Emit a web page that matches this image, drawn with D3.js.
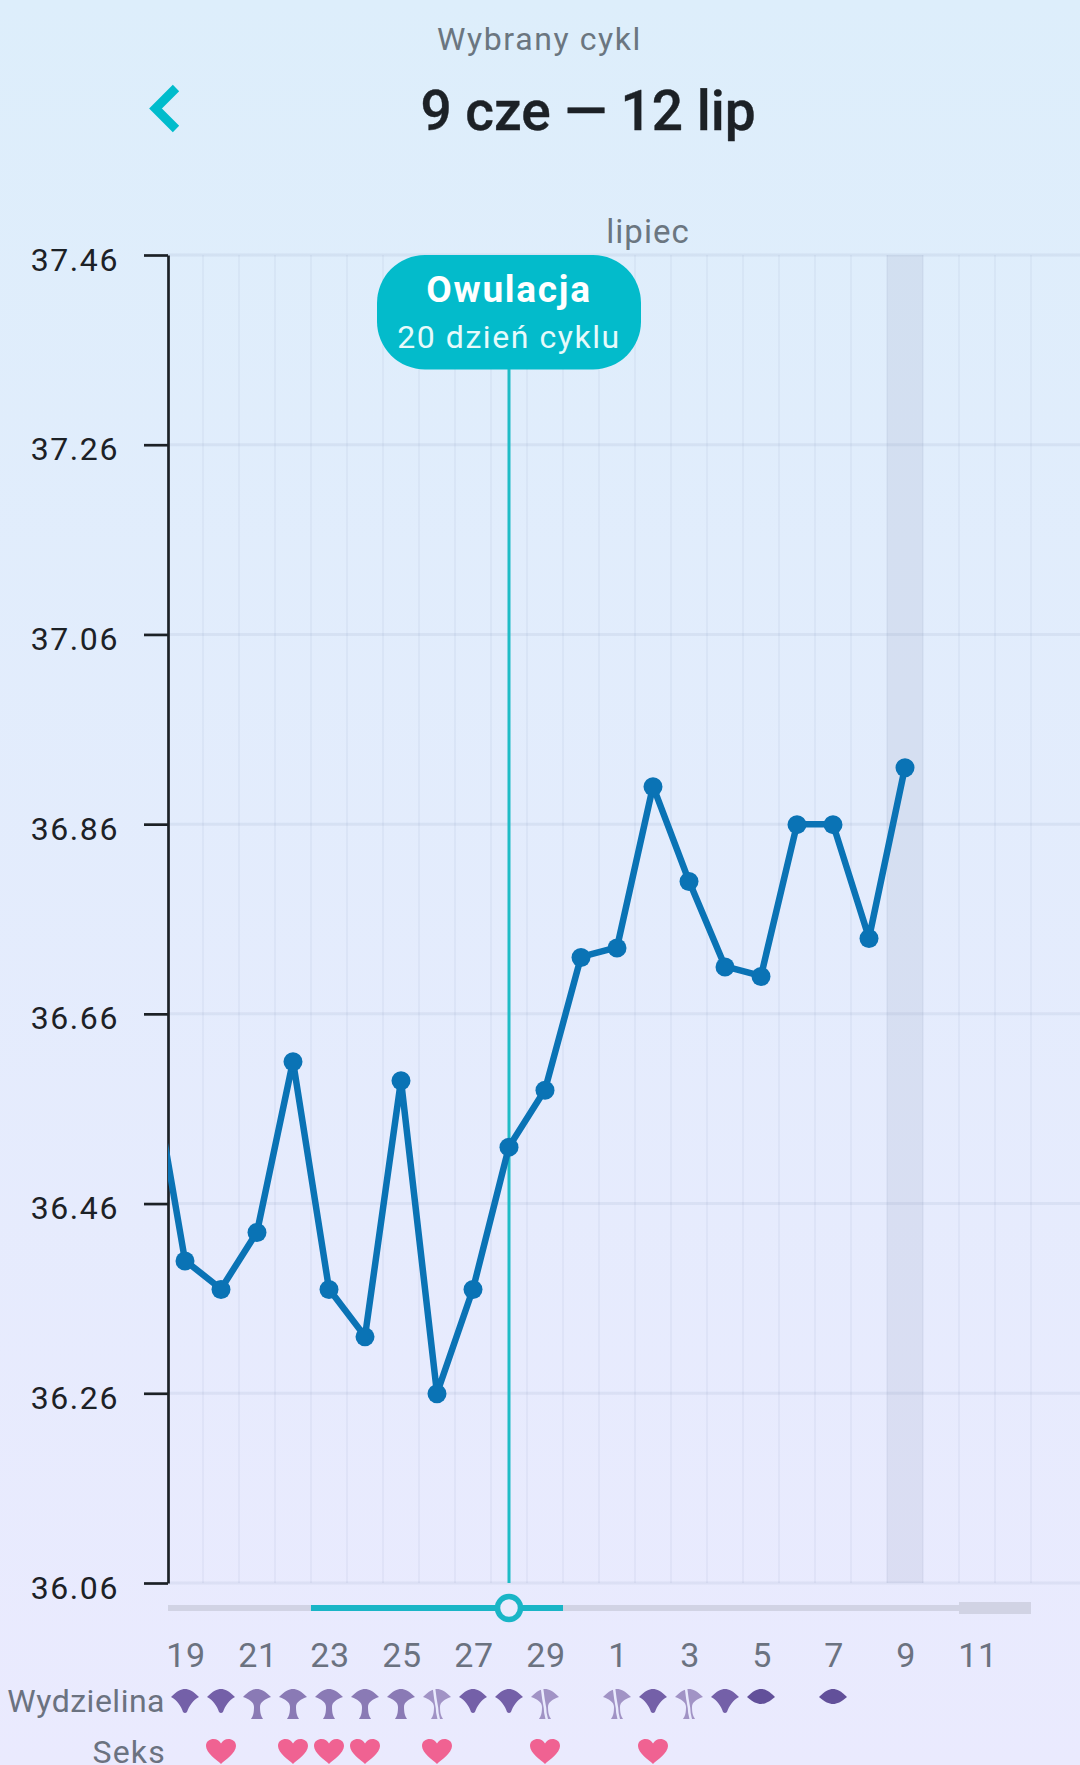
<!DOCTYPE html>
<html>
<head>
<meta charset="utf-8">
<script src="https://cdnjs.cloudflare.com/ajax/libs/d3/7.8.5/d3.min.js"></script>
<style>
html, body { margin: 0; padding: 0; background: #e9ebfd; }
svg { display: block; font-family: Roboto, sans-serif; }
</style>
</head>
<body>
<div id="chart-area"></div>
<script>
const MARGIN = {LEFT: 167, RIGHT: 1031, TOP: 255, BOTTOM: 1583}

// days of the cycle shown on the chart, 18 sits left of the axis and gets clipped
const days = ["18","19","20","21","22","23","24","25","26","27","28","29","30",
              "1","2","3","4","5","6","7","8","9","10","11","12"]
const temps = [36.62,36.40,36.37,36.43,36.61,36.37,36.32,36.59,36.26,36.37,36.52,36.58,36.72,
               36.73,36.90,36.80,36.71,36.70,36.86,36.86,36.74,36.92]
const tempTicks = [36.06,36.26,36.46,36.66,36.86,37.06,37.26,37.46]
const dayTicks = ["19","21","23","25","27","29","1","3","5","7","9","11"]
const ovulationDay = "28"
const todayDay = "9"
const fluidDays = ["19","20","21","22","23","24","25","26","27","28","29","1","2","3","4","5","7"]
const fluidTypes = ["a","a","b","b","b","b","b","c","a","a","c","c","a","c","a","d","d"]
const sexDays = ["20","22","23","24","26","29","2"]

const svg = d3.select("#chart-area").append("svg")
    .attr("width", 1080)
    .attr("height", 1765)

// page gradient
const defs = svg.append("defs")
const grad = defs.append("linearGradient")
    .attr("id", "bg").attr("x1", 0).attr("y1", 0).attr("x2", 0).attr("y2", 1)
grad.append("stop").attr("offset", "0%").attr("stop-color", "#ddeefb")
grad.append("stop").attr("offset", "100%").attr("stop-color", "#eaeafe")
svg.append("rect").attr("width", 1080).attr("height", 1765).attr("fill", "url(#bg)")

defs.append("clipPath").attr("id", "plot-clip").append("rect")
    .attr("x", MARGIN.LEFT + 1).attr("y", 0)
    .attr("width", 1080).attr("height", 1765)

const x = d3.scaleBand()
    .domain(days)
    .range([MARGIN.LEFT - 36, MARGIN.RIGHT])

const y = d3.scaleLinear()
    .domain([36.06, 37.46])
    .range([MARGIN.BOTTOM, MARGIN.TOP])

const cx = d => x(d) + x.bandwidth() / 2

// header
svg.append("text")
    .attr("x", 539.5).attr("y", 50)
    .attr("text-anchor", "middle")
    .attr("font-size", 32).attr("letter-spacing", 1.6)
    .attr("fill", "#6b7680")
    .text("Wybrany cykl")

svg.append("text")
    .attr("x", 588).attr("y", 130)
    .attr("text-anchor", "middle")
    .attr("font-size", 55).attr("font-weight", 500)
    .attr("stroke", "#1c2126").attr("stroke-width", 0.4)
    .attr("fill", "#1c2126")
    .text("9 cze — 12 lip")

svg.append("path")
    .attr("d", "M176,88 L155.5,108.5 L176,129")
    .attr("fill", "none")
    .attr("stroke", "#00bccc")
    .attr("stroke-width", 9)

svg.append("text")
    .attr("x", 648).attr("y", 243)
    .attr("text-anchor", "middle")
    .attr("font-size", 33).attr("letter-spacing", 1)
    .attr("fill", "#6b7680")
    .text("lipiec")

// today band
svg.append("rect")
    .attr("x", x(todayDay)).attr("y", MARGIN.TOP)
    .attr("width", x.bandwidth()).attr("height", MARGIN.BOTTOM - MARGIN.TOP)
    .attr("fill", "#5f6f96").attr("fill-opacity", 0.1)

// vertical grid
svg.append("g").selectAll("line")
    .data(days.slice(2))
    .enter().append("line")
    .attr("x1", d => x(d)).attr("x2", d => x(d))
    .attr("y1", MARGIN.TOP).attr("y2", MARGIN.BOTTOM)
    .attr("stroke", "#6f7fa8").attr("stroke-opacity", 0.065).attr("stroke-width", 2)
svg.append("line")
    .attr("x1", MARGIN.RIGHT).attr("x2", MARGIN.RIGHT)
    .attr("y1", MARGIN.TOP).attr("y2", MARGIN.BOTTOM)
    .attr("stroke", "#6f7fa8").attr("stroke-opacity", 0.065).attr("stroke-width", 2)

// horizontal grid
svg.append("g").selectAll("line")
    .data(tempTicks)
    .enter().append("line")
    .attr("x1", MARGIN.LEFT).attr("x2", 1080)
    .attr("y1", d => y(d)).attr("y2", d => y(d))
    .attr("stroke", "#6f7fa8").attr("stroke-opacity", 0.1).attr("stroke-width", 3)

// y axis
const yAxisCall = d3.axisLeft(y)
    .tickValues(tempTicks)
    .tickFormat(d3.format(".2f"))
    .tickSize(24)
    .tickSizeOuter(0)
    .tickPadding(25)

const yAxis = svg.append("g")
    .attr("class", "y axis")
    .attr("transform", `translate(${MARGIN.LEFT + 1}, 0)`)
    .call(yAxisCall)
yAxis.select(".domain").attr("stroke", "#1c2126").attr("stroke-width", 2.7)
yAxis.selectAll("line").attr("stroke", "#1c2126").attr("stroke-width", 2.7)
yAxis.selectAll("text")
    .attr("font-family", "Roboto, sans-serif")
    .attr("font-size", 32).attr("letter-spacing", 1.6)
    .attr("fill", "#1c2126")
    .attr("dy", "0.47em")

// ovulation marker
svg.append("line")
    .attr("x1", cx(ovulationDay)).attr("x2", cx(ovulationDay))
    .attr("y1", MARGIN.TOP + 60).attr("y2", MARGIN.BOTTOM)
    .attr("stroke", "#1fbcc6").attr("stroke-width", 3)

svg.append("rect")
    .attr("x", cx(ovulationDay) - 132).attr("y", MARGIN.TOP)
    .attr("width", 264).attr("height", 114.5)
    .attr("rx", 48).attr("ry", 48)
    .attr("fill", "#03bbcb")

svg.append("text")
    .attr("x", cx(ovulationDay)).attr("y", 301.5)
    .attr("text-anchor", "middle")
    .attr("font-size", 37).attr("font-weight", 700).attr("letter-spacing", 1.7)
    .attr("fill", "#ffffff")
    .text("Owulacja")

svg.append("text")
    .attr("x", cx(ovulationDay)).attr("y", 348)
    .attr("text-anchor", "middle")
    .attr("font-size", 32).attr("letter-spacing", 1.55)
    .attr("fill", "#e6fafb")
    .text("20 dzień cyklu")

// temperature line
const points = temps.map((t, i) => ({day: days[i], temp: t}))
const line = d3.line()
    .x(d => cx(d.day))
    .y(d => y(d.temp))

const plot = svg.append("g").attr("clip-path", "url(#plot-clip)")
plot.append("path")
    .datum(points)
    .attr("d", line)
    .attr("fill", "none")
    .attr("stroke", "#0a73b5")
    .attr("stroke-width", 6.5)
    .attr("stroke-linejoin", "round")
plot.selectAll("circle")
    .data(points)
    .enter().append("circle")
    .attr("cx", d => cx(d.day))
    .attr("cy", d => y(d.temp) + 0.5)
    .attr("r", 9.5)
    .attr("fill", "#0a73b5")

// range slider under the chart
const sliderY = 1608
svg.append("rect")
    .attr("x", MARGIN.LEFT + 1).attr("y", sliderY - 3)
    .attr("width", x("11") - MARGIN.LEFT - 1).attr("height", 6)
    .attr("fill", "#d1d3e4")
svg.append("rect")
    .attr("x", x("11")).attr("y", sliderY - 6)
    .attr("width", MARGIN.RIGHT - x("11")).attr("height", 12)
    .attr("fill", "#d1d3e4")
svg.append("rect")
    .attr("x", x("23")).attr("y", sliderY - 3)
    .attr("width", x("30") - x("23")).attr("height", 6)
    .attr("fill", "#19b5c6")
svg.append("circle")
    .attr("cx", cx(ovulationDay)).attr("cy", sliderY)
    .attr("r", 11.5)
    .attr("fill", "#e9ebfd")
    .attr("stroke", "#19b5c6").attr("stroke-width", 5.5)

// day labels
const xAxisCall = d3.axisBottom(x)
    .tickValues(dayTicks)
    .tickSize(0)
    .tickPadding(0)

const xAxis = svg.append("g")
    .attr("class", "x axis")
    .attr("transform", "translate(1, 1643)")
    .call(xAxisCall)
xAxis.select(".domain").remove()
xAxis.selectAll("text")
    .attr("font-family", "Roboto, sans-serif")
    .attr("font-size", 34).attr("letter-spacing", 0.6)
    .attr("fill", "#6b7280")

// row labels
svg.append("text")
    .attr("x", 165).attr("y", 1712)
    .attr("text-anchor", "end")
    .attr("font-size", 32).attr("letter-spacing", 0.5)
    .attr("fill", "#6b7280")
    .text("Wydzielina")
svg.append("text")
    .attr("x", 166).attr("y", 1763)
    .attr("text-anchor", "end")
    .attr("font-size", 32).attr("letter-spacing", 1.2)
    .attr("fill", "#6b7280")
    .text("Seks")

// fluid icons, drawn from the top centre of each day
const fan = "M-14,8 C-8,2 -4,0 0,0 C4,0 8,2 14,8 "
const iconShape = {
    a: fan + "C8,11 4,17 2,23 Q0,25 -2,23 C-4,17 -8,11 -14,8Z",
    b: fan + "C8,10 3,13 3,18 C3,24 4,27 6,30 L-6,30 C-4,27 -3,24 -3,18 C-3,13 -8,10 -14,8Z",
    c: fan + "C8,10 3,13 3,18 C3,24 4,27 6,30 L-6,30 C-4,27 -3,24 -3,18 C-3,13 -8,10 -14,8Z",
    d: fan + "C8,13 4,15 0,15 C-4,15 -8,13 -14,8Z"
}
const iconColor = {a: "#7460a8", b: "#8a7ab5", c: "#a193c5", d: "#62509a"}

const icons = svg.append("g").selectAll("g")
    .data(fluidDays.map((d, i) => ({day: d, type: fluidTypes[i]})))
    .enter().append("g")
    .attr("transform", d => `translate(${cx(d.day)}, 1689)`)
icons.append("path")
    .attr("d", d => iconShape[d.type])
    .attr("fill", d => iconColor[d.type])
icons.filter(d => d.type === "c").append("path")
    .attr("d", "M-3,-1 C-2,8 -1,14 0,19 C0,24 1,27 2,31")
    .attr("fill", "none")
    .attr("stroke", "#e9eafd")
    .attr("stroke-width", 2.5)

// hearts
svg.append("g").selectAll("path")
    .data(sexDays)
    .enter().append("path")
    .attr("transform", d => `translate(${cx(d)}, 1739)`)
    .attr("d", "M0,25 C-4,21 -15,14 -15,7 C-15,2 -11,0 -7.5,0 C-4,0 -1.5,2 0,4.5 C1.5,2 4,0 7.5,0 C11,0 15,2 15,7 C15,14 4,21 0,25Z")
    .attr("fill", "#f06292")
</script>
</body>
</html>
